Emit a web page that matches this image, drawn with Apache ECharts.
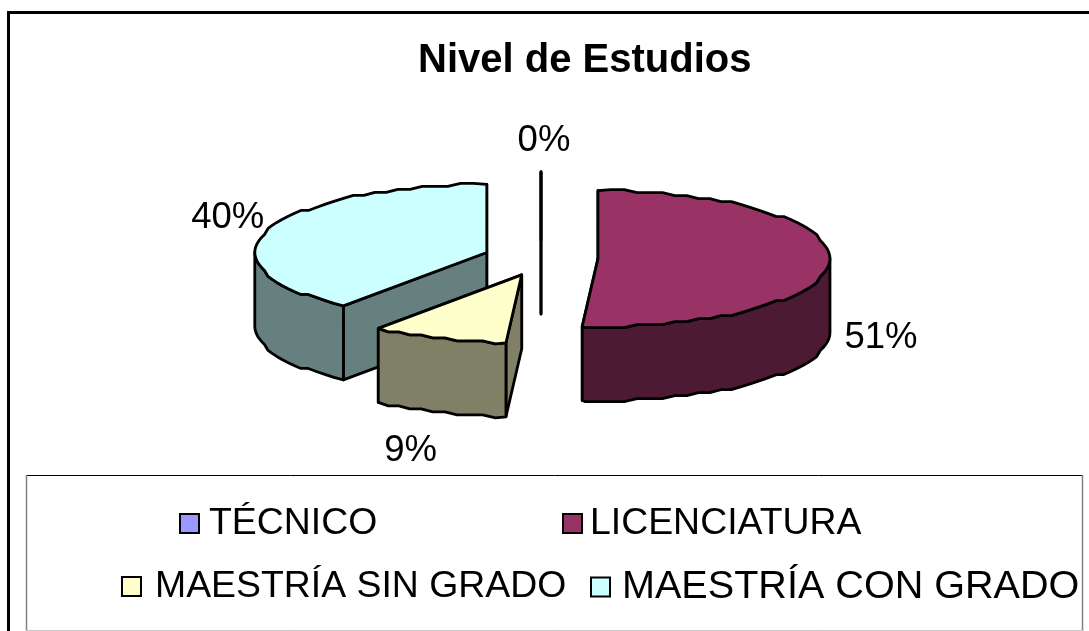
<!DOCTYPE html>
<html>
<head>
<meta charset="utf-8">
<style>html,body{margin:0;padding:0;background:#fff}#c{width:1089px;height:631px}</style>
<script src="https://cdn.jsdelivr.net/npm/echarts@6/dist/echarts.min.js"></script>
</head>
<body>
<div id="c"></div>
<script>
const titleText = 'Nivel de Estudios';
const categories = ['TÉCNICO', 'LICENCIATURA', 'MAESTRÍA SIN GRADO', 'MAESTRÍA CON GRADO'];
const values = [0, 51, 9, 40];

const topColors = ['#9999FF', '#993366', '#FFFFCC', '#CCFFFF'];
const wallColors = ['#4D4D80', '#4D1A33', '#808066', '#668080'];
const labelOffsets = [[3, -99], [283, 79], [-111, 176], [-259, -35]];
const legendSpots = [[179, 505], [562, 505], [121, 568], [590, 567]];
const legendGaps = [5, 3, 9, 7];
const legendSizes = [37.4, 37.4, 37.4, 39.6];

const FONT = '"Liberation Sans", Arial, sans-serif';
const CX = 541, CY = 258, RX = 232, RY = 68, DEPTH = 74, EX = 57, EY = 18, GRID = 3, WARP = 0.04;
const STEP = Math.PI / 60;
const total = values.reduce((a, b) => a + b, 0);
const rad = p => p / total * Math.PI * 2;
const snap = v => Math.round(v / GRID) * GRID;

function arc(ax, ay, a0, a1) {
  const angles = [a0];
  for (let k = Math.floor(a0 / STEP) + 1; k * STEP < a1 - 1e-6; k++) angles.push(k * STEP);
  if (a1 > a0) angles.push(a1);
  return angles.map((a, i) => {
    const w = a + WARP * Math.sin(2 * a);
    const x = ax + RX * Math.sin(w), y = ay - RY * Math.cos(w);
    return (i === 0 || i === angles.length - 1) ? [x, y] : [x, ay + snap(y - ay)];
  });
}

function sliceItem(idx) {
  return function (params, api) {
    const v = api.value(0);
    let before = 0;
    for (let i = 0; i < idx; i++) before += values[i];
    const a0 = rad(before), a1 = rad(before + v), mid = (a0 + a1) / 2;
    const ax = CX + EX * Math.sin(mid), ay = CY - EY * Math.cos(mid);
    const stroke = { stroke: '#000', lineWidth: 2.8, lineJoin: 'round' };
    const children = [];
    const top = arc(ax, ay, a0, a1);
    const face = (p) => ({
      type: 'polygon',
      shape: { points: [[ax, ay], p, [p[0], p[1] + DEPTH], [ax, ay + DEPTH]] },
      style: Object.assign({ fill: wallColors[idx] }, stroke)
    });
    const ends = [top[0], top[top.length - 1]].sort((p, q) => p[1] - q[1]);
    children.push(face(ends[0]), face(ends[1]));
    const w0 = Math.max(a0, Math.PI / 2), w1 = Math.min(a1, Math.PI * 1.5);
    if (w1 > w0) {
      const rim = arc(ax, ay, w0, w1);
      const low = rim.slice().reverse().map(p => [p[0], p[1] + DEPTH]);
      children.push({
        type: 'polygon', shape: { points: rim.concat(low) },
        style: Object.assign({ fill: wallColors[idx] }, stroke)
      });
    }
    children.push({
      type: 'polygon', shape: { points: [[ax, ay]].concat(top) },
      style: Object.assign({ fill: topColors[idx] }, stroke)
    });
    children.push({
      type: 'text',
      style: {
        text: v + '%',
        x: ax + labelOffsets[idx][0], y: ay + labelOffsets[idx][1],
        align: 'center', verticalAlign: 'middle',
        font: '36.5px ' + FONT, fill: '#000'
      }
    });
    return { type: 'group', children };
  };
}

function zFor(idx) {
  let before = 0;
  for (let i = 0; i < idx; i++) before += values[i];
  return Math.round(10 - 5 * Math.cos(rad(before + values[idx] / 2)));
}

const edge = (x1, y1, x2, y2, color, w) => ({
  type: 'line', z: 1, shape: { x1, y1, x2, y2 }, style: { stroke: color, lineWidth: w }
});

const chart = echarts.init(document.getElementById('c'), null, { renderer: 'canvas' });
chart.setOption({
  animation: false,
  backgroundColor: '#fff',
  title: {
    text: titleText, left: 413, top: 36,
    textStyle: { fontFamily: FONT, fontSize: 40, fontWeight: 'bold', color: '#000' }
  },
  tooltip: { show: false },
  legend: categories.map((c, i) => ({
    data: [c], left: legendSpots[i][0], top: legendSpots[i][1], padding: 0,
    icon: 'rect', itemWidth: 19, itemHeight: 19, selectedMode: false,
    itemStyle: { borderColor: '#000', borderWidth: 2 },
    textStyle: { fontFamily: FONT, fontSize: legendSizes[i], color: '#000', padding: [0, 0, 0, legendGaps[i]] }
  })),
  graphic: [
    { type: 'rect', z: -1, shape: { x: 8.5, y: 12.5, width: 1090, height: 630 },
      style: { fill: '#fff', stroke: '#000', lineWidth: 3 } },
    { type: 'rect', z: 0, shape: { x: 26, y: 475, width: 1056, height: 155 },
      style: { fill: '#fff' } },
    edge(26, 475.5, 1083, 475.5, '#000', 1),
    edge(26.5, 475, 26.5, 631, '#808080', 1.5),
    edge(1082.5, 475, 1082.5, 631, '#808080', 1.5),
    edge(26, 630.5, 1083, 630.5, '#c8c8c8', 1)
  ],
  series: categories.map((c, i) => ({
    type: 'custom', name: c, coordinateSystem: 'none',
    z: zFor(i), silent: true,
    itemStyle: { color: topColors[i] },
    data: [[values[i]]],
    renderItem: sliceItem(i)
  }))
});
</script>
</body>
</html>
